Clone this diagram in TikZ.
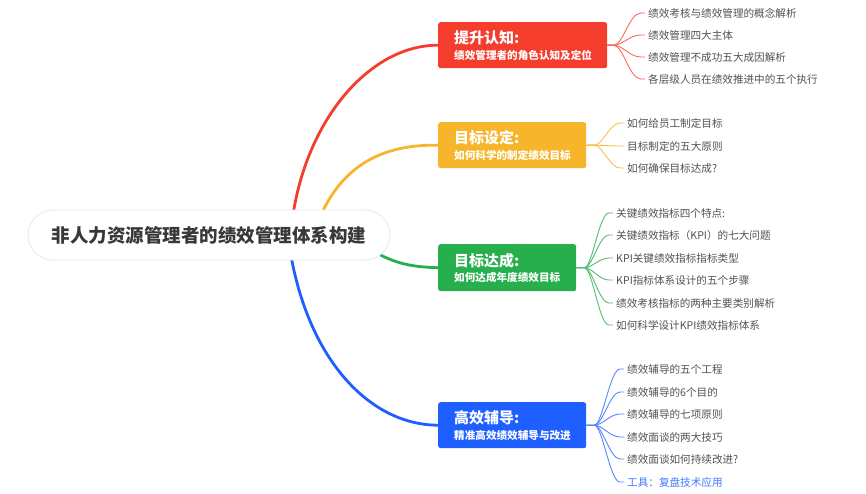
\documentclass[tikz,border=0pt]{standalone}
\usepackage{fontspec}
\setmainfont{Noto Sans CJK SC}
\begin{document}
\begin{tikzpicture}[x=1pt,y=-1pt,
  rootbox/.style={draw=black!9,line width=0.8pt,fill=white,rounded corners=25pt,minimum width=362pt,minimum height=50pt,inner sep=0pt,text=black!78,font=\fontsize{18.5}{20}\selectfont\bfseries},
  mainbox/.style={rounded corners=2.5pt,inner sep=0pt,anchor=north west},
  ttl/.style={anchor=west,inner sep=0pt,text=white,font=\fontsize{15}{16}\selectfont\bfseries},
  sub/.style={anchor=west,inner sep=0pt,text=white,font=\fontsize{10.6}{12}\selectfont\bfseries},
  leaf/.style={anchor=west,inner sep=3pt,text=black!68,font=\fontsize{10.6}{12}\selectfont},
  trunk/.style={line width=2.8pt,line cap=round},
  twig/.style={line width=0.9pt}
]
\definecolor{cred}{HTML}{F53D2E}
\definecolor{corange}{HTML}{F7B52C}
\definecolor{cgreen}{HTML}{26AF4C}
\definecolor{cblue}{HTML}{1F5FFF}
\useasboundingbox (0,0) rectangle (866,494);
\fill[white] (0,0) rectangle (866,494);

% main boxes
\node[mainbox,fill=cred,minimum width=169pt,minimum height=46pt] (bR) at (438,22) {};
\node[mainbox,fill=corange,minimum width=148pt,minimum height=46pt] (bO) at (438,122) {};
\node[mainbox,fill=cgreen,minimum width=138pt,minimum height=47pt] (bG) at (438,244) {};
\node[mainbox,fill=cblue,minimum width=148pt,minimum height=46pt] (bB) at (438,402) {};

% start points on root
\coordinate (sR) at (292,222);
\coordinate (sO) at (318,222);
\coordinate (sG) at (368,248);
\coordinate (sB) at (290,250);

\draw[trunk,cred] (sR) .. controls (305,120) and (370,45) .. (bR.west);
\draw[trunk,corange] (sO) .. controls (338,172) and (375,144) .. (bO.west);
\draw[trunk,cgreen] (sG) .. controls (395,265) and (415,267) .. (bG.west);
\draw[trunk,cblue] (sB) .. controls (308,360) and (370,425) .. (bB.west);

% root
\node[rootbox] (root) at (209,235) {非人力资源管理者的绩效管理体系构建};

% titles
\node[ttl] (tR) at (454,38) {提升认知:};
\node[sub] (uR) at (454,55) {绩效管理者的角色认知及定位};
\node[ttl] (tO) at (454,138) {目标设定:};
\node[sub] (uO) at (454,155) {如何科学的制定绩效目标};
\node[ttl] (tG) at (454,261) {目标达成:};
\node[sub] (uG) at (454,277) {如何达成年度绩效目标};
\node[ttl] (tB) at (454,418) {高效辅导:};
\node[sub] (uB) at (454,435) {精准高效绩效辅导与改进};

% leaves red
\node[leaf] (r1) at (645,13) {绩效考核与绩效管理的概念解析};
\node[leaf] (r2) at (645,35) {绩效管理四大主体};
\node[leaf] (r3) at (645,57) {绩效管理不成功五大成因解析};
\node[leaf] (r4) at (645,79) {各层级人员在绩效推进中的五个执行};
\foreach \n in {r1,r2,r3,r4}
  \draw[twig,cred!75] (bR.east) -- ++(6,0) .. controls +(10,0) and +(-12,0) .. ([xshift=-4pt]\n.west) -- (\n.west);

% leaves orange
\node[leaf] (o1) at (624,123) {如何给员工制定目标};
\node[leaf] (o2) at (624,146) {目标制定的五大原则};
\node[leaf] (o3) at (624,168) {如何确保目标达成?};
\foreach \n in {o1,o2,o3}
  \draw[twig,corange!85] (bO.east) -- ++(8,0) .. controls +(8,0) and +(-10,0) .. ([xshift=-4pt]\n.west) -- (\n.west);

% leaves green
\node[leaf] (g1) at (613,213) {关键绩效指标四个特点:};
\node[leaf] (g2) at (613,235) {关键绩效指标（KPI）的七大问题};
\node[leaf] (g3) at (613,258) {KPI关键绩效指标指标类型};
\node[leaf] (g4) at (613,280) {KPI指标体系设计的五个步骤};
\node[leaf] (g5) at (613,303) {绩效考核指标的两种主要类别解析};
\node[leaf] (g6) at (613,325) {如何科学设计KPI绩效指标体系};
\foreach \n in {g1,g2,g3,g4,g5,g6}
  \draw[twig,cgreen!80] (bG.east) -- ++(8,0) .. controls +(8,0) and +(-10,0) .. ([xshift=-4pt]\n.west) -- (\n.west);

% leaves blue
\node[leaf] (l1) at (624,369) {绩效辅导的五个工程};
\node[leaf] (l2) at (624,392) {绩效辅导的6个目的};
\node[leaf] (l3) at (624,414) {绩效辅导的七项原则};
\node[leaf] (l4) at (624,437) {绩效面谈的两大技巧};
\node[leaf] (l5) at (624,459) {绩效面谈如何持续改进?};
\node[leaf,text=cblue!85] (l6) at (624,482) {工具：复盘技术应用};
\foreach \n in {l1,l2,l3,l4,l5,l6}
  \draw[twig,cblue!75] (bB.east) -- ++(8,0) .. controls +(8,0) and +(-10,0) .. ([xshift=-4pt]\n.west) -- (\n.west);
\end{tikzpicture}
\end{document}
